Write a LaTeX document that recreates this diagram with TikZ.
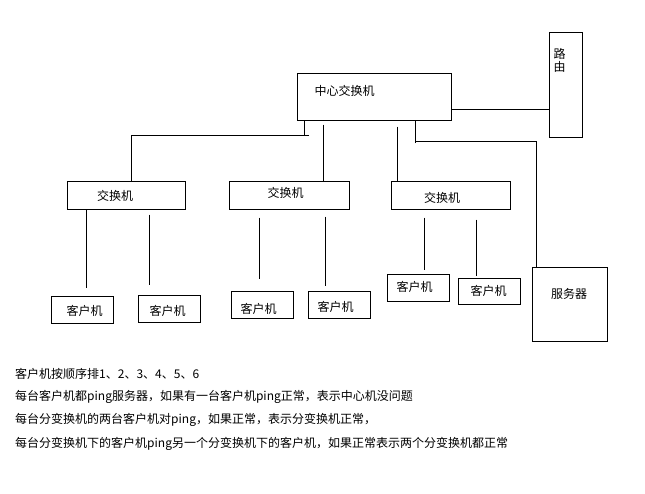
\documentclass[tikz,border=0pt]{standalone}
\usepackage{fontspec}
\setmainfont{Noto Sans CJK SC}

\begin{document}
\begin{tikzpicture}[x=1pt,y=-1pt,
  box/.style={draw, line width=1pt, inner sep=0pt},
  lbl/.style={inner sep=0pt, font=\fontsize{12}{13}\selectfont},
  link/.style={line width=1pt}]
\fill[white] (0,0) rectangle (645,493);
\useasboundingbox (0,0) rectangle (645,493);

% boxes
\node[box, minimum width=154pt, minimum height=47pt] (core) at (374,96.5) {};
\node[box, minimum width=33pt, minimum height=105pt] (router) at (565.5,84.5) {};
\node[box, minimum width=118pt, minimum height=28pt] (sw1) at (126,195) {};
\node[box, minimum width=120pt, minimum height=28pt] (sw2) at (289,195) {};
\node[box, minimum width=119pt, minimum height=28pt] (sw3) at (450.5,195) {};
\node[box, minimum width=62pt, minimum height=27pt] (c1) at (82,309.5) {};
\node[box, minimum width=62pt, minimum height=27pt] (c2) at (169,308.5) {};
\node[box, minimum width=62pt, minimum height=27pt] (c3) at (262,304.5) {};
\node[box, minimum width=62pt, minimum height=27pt] (c4) at (339,304.5) {};
\node[box, minimum width=62pt, minimum height=27pt] (c5) at (418,287.5) {};
\node[box, minimum width=62pt, minimum height=26pt] (c6) at (489,291) {};
\node[box, minimum width=75pt, minimum height=74pt] (server) at (569.5,304) {};

% labels
\node[lbl] (coret) at (344.5,91) {中心交换机};
\node[lbl, align=center] (routert) at (559.5,60) {路\\由};
\node[lbl] (sw1t) at (115,196) {交换机};
\node[lbl] (sw2t) at (285.5,193) {交换机};
\node[lbl] (sw3t) at (442,198) {交换机};
\node[lbl] (c1t) at (84.5,311) {客户机};
\node[lbl] (c2t) at (167.5,311) {客户机};
\node[lbl] (c3t) at (258.5,309) {客户机};
\node[lbl] (c4t) at (335.5,307) {客户机};
\node[lbl] (c5t) at (414.5,287) {客户机};
\node[lbl] (c6t) at (488.5,291) {客户机};
\node[lbl] (servert) at (569,294) {服务器};

% core links
\coordinate (lbus) at (309,135);
\coordinate (sbus) at (415,141);
\draw[link] ([yshift=-12.5pt]core.east) -- ([yshift=-12.5pt]core.east -| router.west);
\draw[link] ([xshift=-70pt]core.south) -- ([xshift=-70pt]core.south |- lbus);
\draw[link] (lbus) -| ([xshift=5pt]sw1.north);
\draw[link, shorten <=4pt] ([xshift=-51pt]core.south) -- ([xshift=34pt]sw2.north);
\draw[link, shorten <=6pt] ([xshift=23pt]core.south) -- ([xshift=-53.5pt]sw3.north);
\draw[link] ([yshift=-2pt]sbus) -- (sbus |- core.south);
\draw[link] (sbus) -| ([xshift=4.5pt]server.north west);

% client links
\draw[link, shorten >=8pt] ([xshift=4pt]sw1.south -| c1.north) -- ([xshift=4pt]c1.north);
\draw[link, shorten <=5pt, shorten >=10pt] ([xshift=-20pt]sw1.south -| c2.north) -- ([xshift=-20pt]c2.north);
\draw[link, shorten <=8pt, shorten >=12pt] ([xshift=-3pt]sw2.south -| c3.north) -- ([xshift=-3pt]c3.north);
\draw[link, shorten <=7pt, shorten >=5pt] ([xshift=-14pt]sw2.south -| c4.north) -- ([xshift=-14pt]c4.north);
\draw[link, shorten <=8pt, shorten >=4pt] ([xshift=6pt]sw3.south -| c5.north) -- ([xshift=6pt]c5.north);
\draw[link, shorten <=10pt, shorten >=2pt] ([xshift=-13pt]sw3.south -| c6.north) -- ([xshift=-13pt]c6.north);

% notes
\node[lbl, anchor=west] (note1) at (15,374) {客户机按顺序排1、2、3、4、5、6};
\node[lbl, anchor=west] (note2) at (15,397) {每台客户机都ping服务器，如果有一台客户机ping正常，表示中心机没问题};
\node[lbl, anchor=west] (note3) at (15,420) {每台分变换机的两台客户机对ping，如果正常，表示分变换机正常，};
\node[lbl, anchor=west] (note4) at (15,444) {每台分变换机下的客户机ping另一个分变换机下的客户机，如果正常表示两个分变换机都正常};
\end{tikzpicture}
\end{document}
